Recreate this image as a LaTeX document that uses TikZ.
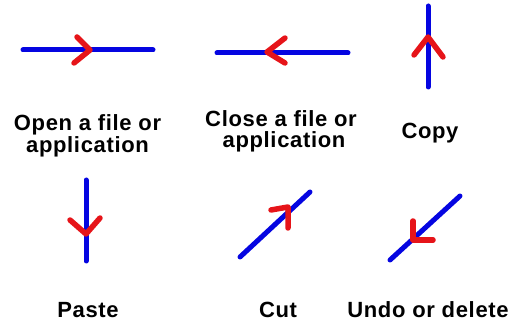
\documentclass[tikz,border=0pt]{standalone}
\usepackage{fontspec}
\setmainfont{Liberation Sans}[LetterSpace=3]
\definecolor{lineblue}{RGB}{5,5,225}
\definecolor{tipred}{RGB}{230,20,25}
\begin{document}
\begin{tikzpicture}[x=1pt,y=-1pt,
  shaft/.style={draw=lineblue,line width=5pt,line cap=round},
  chev/.style={draw=tipred,line width=5.5pt,line cap=round,line join=round},
  lbl/.style={anchor=base,inner sep=0pt,font=\fontsize{22}{22}\selectfont\bfseries}]
\useasboundingbox (0,0) rectangle (515,323);
% Open
\draw[shaft] (23,50) -- (153,50);
\draw[chev] (77,37) -- (90,50) -- (74,63);
\node[lbl] (open1) at (87.5,131) {Open a file or};
\node[lbl] (open2) at (87.5,153) {application};
% Close
\draw[shaft] (217,53) -- (348,53);
\draw[chev] (285,38) -- (267,52) -- (285,63);
\node[lbl] (close1) at (281,127) {Close a file or};
\node[lbl] (close2) at (284,148) {application};
% Copy
\draw[shaft] (428,6) -- (428,87);
\draw[chev] (414,55) -- (428,37) -- (443,57);
\node[lbl] (copy) at (430,139) {Copy};
% Paste
\draw[shaft] (86,180) -- (86,261);
\draw[chev] (70,220) -- (86,234) -- (100,218);
\node[lbl] (paste) at (88,318) {Paste};
% Cut
\draw[shaft] (240,257) -- (310,192);
\draw[chev] (271,210) -- (288,207) -- (288,228);
\node[lbl] (cut) at (278,318) {Cut};
% Undo
\draw[shaft] (390,260) -- (460,196);
\draw[chev] (413,221) -- (413,240) -- (433,240);
\node[lbl] (undo) at (428,318) {Undo or delete};
\end{tikzpicture}
\end{document}
